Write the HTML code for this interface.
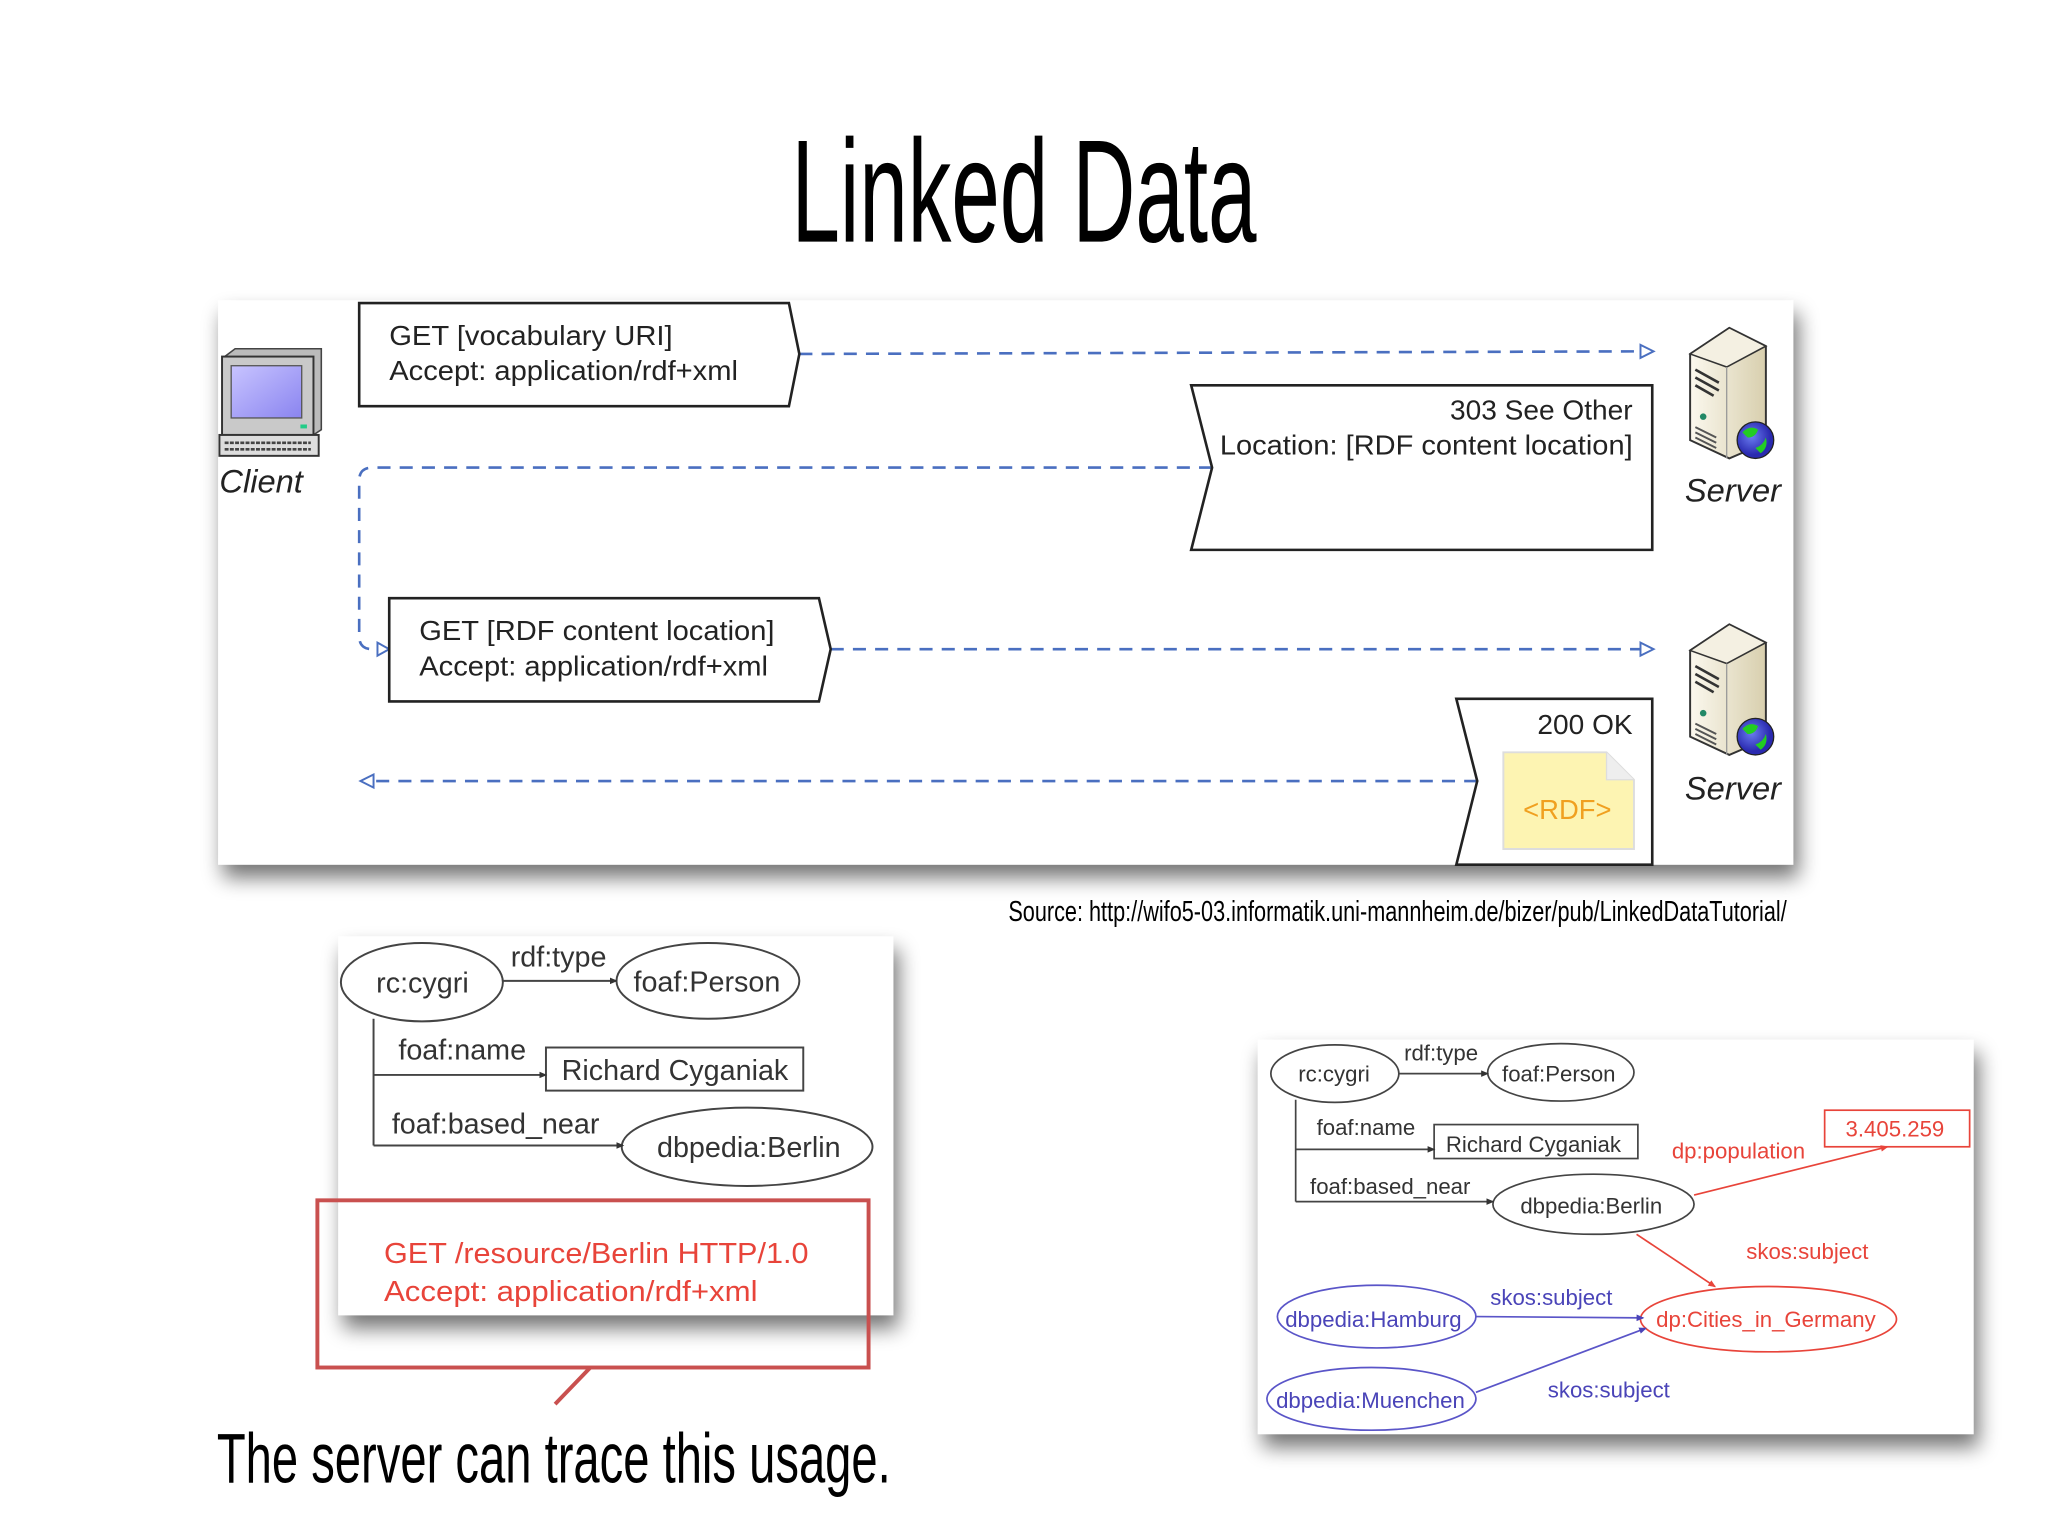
<!DOCTYPE html>
<html><head><meta charset="utf-8"><style>
html,body{margin:0;padding:0;background:#fff;}
svg{display:block;}
text{font-family:"Liberation Sans",Arial,sans-serif;}
</style></head><body>
<svg width="2048" height="1536" viewBox="0 0 1568 1176" xmlns="http://www.w3.org/2000/svg">
<defs>
<filter id="sh" x="-10%" y="-10%" width="125%" height="130%">
<feGaussianBlur in="SourceAlpha" stdDeviation="8"/>
<feOffset dx="4" dy="10" result="b"/>
<feComponentTransfer><feFuncA type="linear" slope="0.55"/></feComponentTransfer>
<feMerge><feMergeNode/><feMergeNode in="SourceGraphic"/></feMerge>
</filter>
<linearGradient id="srv" x1="0" x2="1"><stop offset="0" stop-color="#fbf8ee"/><stop offset="1" stop-color="#d8cfae"/></linearGradient>
<radialGradient id="glb" cx="0.4" cy="0.4"><stop offset="0" stop-color="#6a7cf0"/><stop offset="1" stop-color="#2a2ab0"/></radialGradient>
<linearGradient id="scr" x1="0" y1="0" x2="1" y2="1"><stop offset="0" stop-color="#c8c4ff"/><stop offset="1" stop-color="#8a84f0"/></linearGradient>
<marker id="ak" markerWidth="6" markerHeight="6" refX="5" refY="3" orient="auto" markerUnits="userSpaceOnUse"><path d="M0,0.5 L6,3 L0,5.5 Z" fill="#333"/></marker>
<marker id="ar" markerWidth="6" markerHeight="6" refX="5" refY="3" orient="auto" markerUnits="userSpaceOnUse"><path d="M0,0.5 L6,3 L0,5.5 Z" fill="#e8443a"/></marker>
<marker id="ab" markerWidth="6" markerHeight="6" refX="5" refY="3" orient="auto" markerUnits="userSpaceOnUse"><path d="M0,0.5 L6,3 L0,5.5 Z" fill="#4a44b8"/></marker>
<g id="server">
<path d="M0,20 L30,0 L58,14 L58,88 L30,100 L0,86 Z" fill="url(#srv)" stroke="#333" stroke-width="1.5"/>
<path d="M0,20 L30,0 L58,14 L28,30 Z" fill="#f4f0e2" stroke="#333" stroke-width="1.2"/>
<path d="M28,30 L28,100" stroke="#999" stroke-width="1"/>
<path d="M4,32 L22,42 M4,38 L22,48 M4,44 L18,52" stroke="#333" stroke-width="2"/>
<circle cx="10" cy="68" r="2.5" fill="#286"/>
<path d="M4,76 L20,84 M4,80 L20,88 M4,84 L20,92" stroke="#555" stroke-width="1.5"/>
<circle cx="50" cy="86" r="14" fill="url(#glb)" stroke="#222"/>
<path d="M40,80 q6,-6 12,-2 q-2,6 -8,6 z M50,92 q6,-2 8,-8 q2,8 -4,12 z" fill="#2c2"/>
</g>
</defs>

<text x="784" y="185" font-size="112" text-anchor="middle" textLength="356" lengthAdjust="spacingAndGlyphs" font-family="Liberation Sans Narrow, Liberation Sans, sans-serif" fill="#000">Linked Data</text>

<rect x="167" y="230" width="1206" height="432" fill="#fff" filter="url(#sh)"/>

<g transform="translate(168,267)">
<path d="M4,6 L12,0 L78,0 L78,62 L72,66 Z" fill="#bbb" stroke="#444" stroke-width="1.2"/>
<rect x="2" y="6" width="70" height="60" fill="#c9c9c9" stroke="#333" stroke-width="1.5"/>
<rect x="9" y="13" width="54" height="40" fill="url(#scr)" stroke="#555"/>
<rect x="0" y="66" width="76" height="16" fill="#ddd" stroke="#333" stroke-width="1.5"/>
<path d="M4,72 L70,72 M4,77 L70,77" stroke="#444" stroke-width="2" stroke-dasharray="3 1"/>
<rect x="62" y="58" width="5" height="3" fill="#2c8"/>
</g>
<text x="168" y="377" font-size="25" font-style="italic" fill="#222">Client</text>

<use href="#server" transform="translate(1294,251)"/>
<use href="#server" transform="translate(1294,478)"/>
<text x="1290" y="384" font-size="25" font-style="italic" fill="#222">Server</text>
<text x="1290" y="612" font-size="25" font-style="italic" fill="#222">Server</text>

<g fill="none" stroke="#4a6fc0" stroke-width="2" stroke-dasharray="10 7">
<path d="M612,271 L1258,269"/>
<path d="M928,358 L285,358 Q275,358 275,368 L275,487 Q275,497 285,497 L290,497"/>
<path d="M636,497 L1258,497"/>
<path d="M1131,598 L285,598"/>
</g>
<g fill="#fff" stroke="#4a6fc0" stroke-width="1.5">
<path d="M1256,264 L1266,269 L1256,274 Z"/>
<path d="M289,492 L298,497 L289,502 Z"/>
<path d="M1256,492 L1266,497 L1256,502 Z"/>
<path d="M286,593 L276,598 L286,603 Z"/>
</g>

<g fill="#fff" stroke="#222" stroke-width="2">
<path d="M275,232 L604,232 L612,271 L604,311 L275,311 Z"/>
<path d="M912,295 L1265,295 L1265,421 L912,421 L928,358 Z"/>
<path d="M298,458 L627,458 L636,497 L627,537 L298,537 Z"/>
<path d="M1115,535 L1265,535 L1265,662 L1115,662 L1131,598 Z"/>
</g>
<g font-size="21.5" fill="#222">
<text x="298" y="264" textLength="217" lengthAdjust="spacingAndGlyphs">GET [vocabulary URI]</text>
<text x="298" y="291" textLength="267" lengthAdjust="spacingAndGlyphs">Accept: application/rdf+xml</text>
<text x="1250" y="321" text-anchor="end">303 See Other</text>
<text x="1250" y="348" text-anchor="end" textLength="316" lengthAdjust="spacingAndGlyphs">Location: [RDF content location]</text>
<text x="321" y="490" textLength="272" lengthAdjust="spacingAndGlyphs">GET [RDF content location]</text>
<text x="321" y="517" textLength="267" lengthAdjust="spacingAndGlyphs">Accept: application/rdf+xml</text>
<text x="1250" y="562" text-anchor="end">200 OK</text>
</g>
<path d="M1151,576 L1230,576 L1251,597 L1251,650 L1151,650 Z" fill="#fdf4b2" stroke="#ddd" stroke-width="1.5"/>
<path d="M1230,576 L1230,597 L1251,597" fill="#eee" stroke="#ddd"/>
<text x="1200" y="627" font-size="21" fill="#f0a020" text-anchor="middle">&lt;RDF&gt;</text>

<text x="772" y="705" font-size="22" textLength="596" lengthAdjust="spacingAndGlyphs" font-family="Liberation Sans Narrow, Liberation Sans, sans-serif" fill="#000">Source: http://wifo5-03.informatik.uni-mannheim.de/bizer/pub/LinkedDataTutorial/</text>

<rect x="259" y="717" width="425" height="290" fill="#fff" filter="url(#sh)"/>
<g fill="none" stroke="#444" stroke-width="1.5">
<ellipse cx="323" cy="752" rx="62" ry="30"/>
<ellipse cx="542" cy="751" rx="70" ry="29"/>
<ellipse cx="572" cy="878" rx="96" ry="30"/>
<rect x="418" y="802" width="197" height="33"/>
<path d="M286,780 L286,877"/>
<path d="M385,751 L472,751" marker-end="url(#ak)"/>
<path d="M286,877 L477,877" marker-end="url(#ak)"/>
<path d="M286,823 L418,823" marker-end="url(#ak)"/>
</g>
<g font-size="22" fill="#333">
<text x="288" y="760">rc:cygri</text>
<text x="391" y="740">rdf:type</text>
<text x="485" y="759">foaf:Person</text>
<text x="305" y="811">foaf:name</text>
<text x="430" y="827">Richard Cyganiak</text>
<text x="300" y="868">foaf:based_near</text>
<text x="503" y="886">dbpedia:Berlin</text>
</g>
<rect x="243" y="919" width="422" height="128" fill="none" stroke="#c9504f" stroke-width="3"/>
<path d="M452,1047 L425,1075" stroke="#c9504f" stroke-width="3"/>
<g font-size="22" fill="#e8443a">
<text x="294" y="967" textLength="325" lengthAdjust="spacingAndGlyphs">GET /resource/Berlin HTTP/1.0</text>
<text x="294" y="996" textLength="286" lengthAdjust="spacingAndGlyphs">Accept: application/rdf+xml</text>
</g>
<text x="166" y="1135" font-size="54" textLength="516" lengthAdjust="spacingAndGlyphs" font-family="Liberation Sans Narrow, Liberation Sans, sans-serif" fill="#000">The server can trace this usage.</text>

<rect x="963" y="796" width="548" height="302" fill="#fff" filter="url(#sh)"/>
<g fill="none" stroke="#444" stroke-width="1.3">
<ellipse cx="1022" cy="822" rx="49" ry="22"/>
<ellipse cx="1195" cy="821" rx="56" ry="22"/>
<ellipse cx="1220" cy="922" rx="77" ry="23"/>
<rect x="1098" y="861" width="156" height="26"/>
<path d="M992,842 L992,920"/>
<path d="M1071,822 L1139,822" marker-end="url(#ak)"/>
<path d="M992,920 L1143,920" marker-end="url(#ak)"/>
<path d="M992,880 L1098,880" marker-end="url(#ak)"/>
</g>
<g fill="none" stroke="#e8443a" stroke-width="1.3">
<rect x="1397" y="850" width="111" height="28"/>
<ellipse cx="1354" cy="1010" rx="98" ry="25"/>
<path d="M1297,915 L1445,878" marker-end="url(#ar)"/>
<path d="M1253,945 L1313,985" marker-end="url(#ar)"/>
</g>
<g fill="none" stroke="#5a55c8" stroke-width="1.3">
<ellipse cx="1054" cy="1008" rx="76" ry="24"/>
<ellipse cx="1050" cy="1071" rx="80" ry="24"/>
<path d="M1130,1008 L1258,1009" marker-end="url(#ab)"/>
<path d="M1130,1066 L1260,1017" marker-end="url(#ab)"/>
</g>
<g font-size="17" fill="#333">
<text x="994" y="828">rc:cygri</text>
<text x="1075" y="812">rdf:type</text>
<text x="1150" y="828">foaf:Person</text>
<text x="1008" y="869">foaf:name</text>
<text x="1107" y="882">Richard Cyganiak</text>
<text x="1003" y="914">foaf:based_near</text>
<text x="1164" y="929">dbpedia:Berlin</text>
</g>
<g font-size="17" fill="#e8443a">
<text x="1413" y="870">3.405.259</text>
<text x="1280" y="887">dp:population</text>
<text x="1337" y="964">skos:subject</text>
<text x="1268" y="1016">dp:Cities_in_Germany</text>
</g>
<g font-size="17" fill="#4a44b8">
<text x="984" y="1016">dbpedia:Hamburg</text>
<text x="1141" y="999">skos:subject</text>
<text x="977" y="1078">dbpedia:Muenchen</text>
<text x="1185" y="1070">skos:subject</text>
</g>
</svg>
</body></html>
